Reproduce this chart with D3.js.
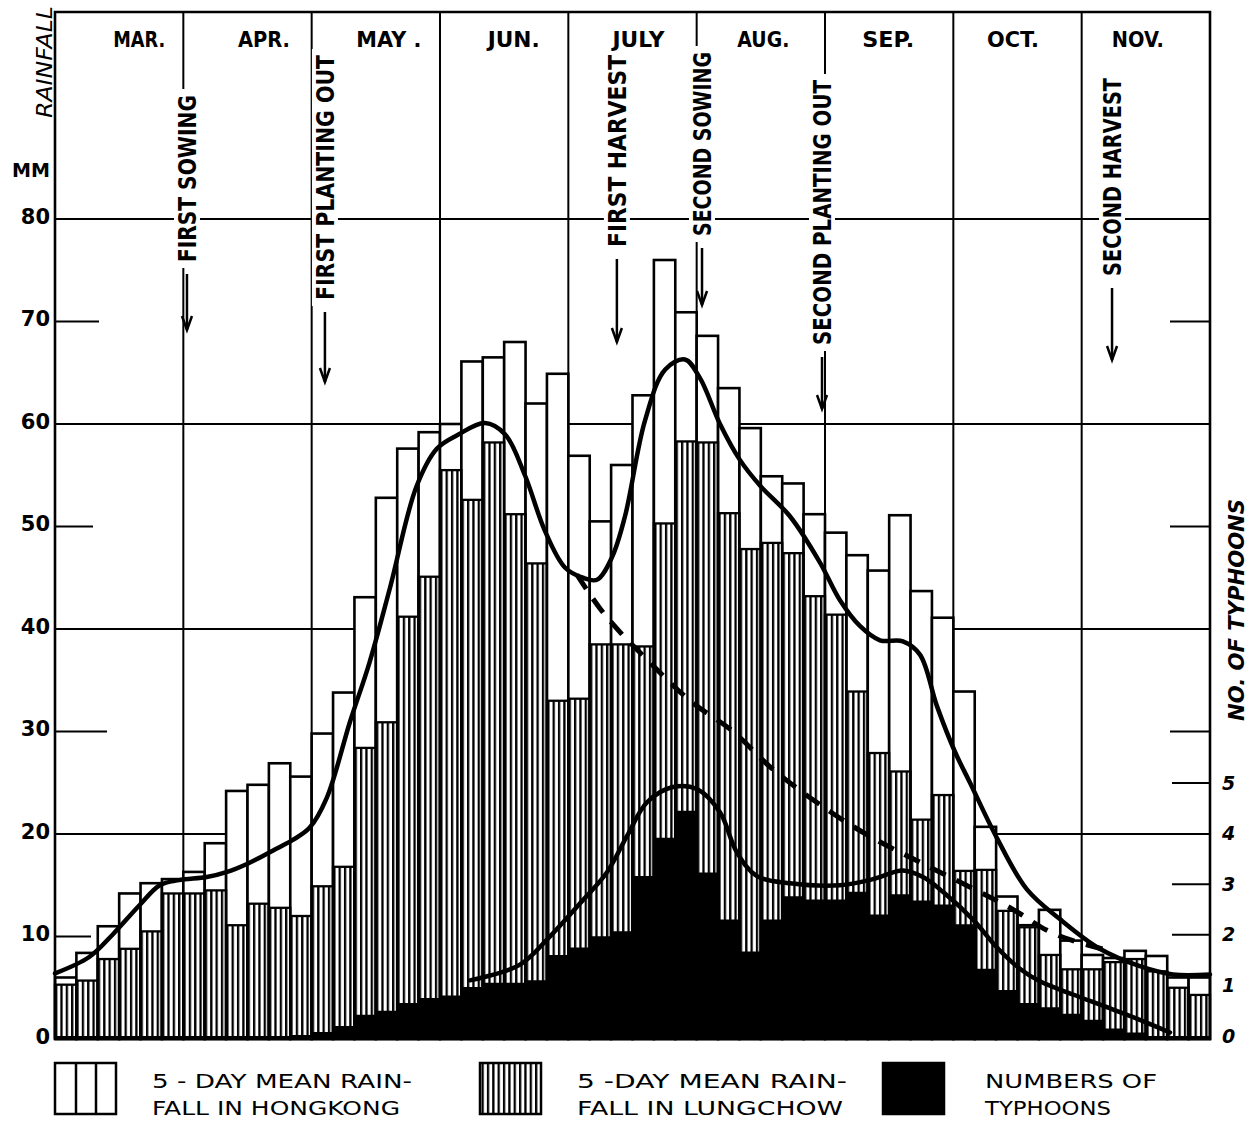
<!DOCTYPE html>
<html>
<head>
<meta charset="utf-8">
<script src="https://cdn.jsdelivr.net/npm/d3@7"></script>
<style>
  body { margin: 0; background: #fff; }
  svg { display: block; }
  text { font-family: "DejaVu Sans", sans-serif; fill: #000; }
</style>
</head>
<body>
<svg id="chart"></svg>
<script>
// month names across the top, 6 five-day periods each
const months = ["MAR.", "APR.", "MAY .", "JUN.", "JULY", "AUG.", "SEP.", "OCT.", "NOV."];

// 5-day mean rainfall, mm (Mar 1 .. Nov 30, 54 periods)
const hongkong = [
  6.0, 8.4, 11.0, 14.2, 15.2, 15.6,
  16.3, 19.1, 24.2, 24.8, 26.9, 25.6,
  29.8, 33.8, 43.1, 52.8, 57.6, 59.2,
  60.0, 66.1, 66.5, 68.0, 62.0, 64.9,
  56.9, 50.5, 56.0, 62.8, 76.0, 70.9,
  68.6, 63.5, 59.6, 54.9, 54.2, 51.2,
  49.4, 47.2, 45.7, 51.1, 43.7, 41.1,
  33.9, 20.7, 13.9, 11.1, 12.6, 9.6,
  8.2, 7.9, 8.6, 8.1, 6.0, 6.0
];
const lungchow = [
  5.3, 5.7, 7.8, 8.8, 10.5, 14.2,
  14.2, 14.5, 11.1, 13.2, 12.8, 12.0,
  14.9, 16.8, 28.4, 30.9, 41.2, 45.1,
  55.5, 52.6, 58.2, 51.2, 46.4, 33.0,
  33.2, 38.5, 38.5, 38.3, 50.3, 58.3,
  58.2, 51.3, 47.8, 48.4, 47.4, 43.2,
  41.4, 33.9, 27.9, 26.1, 21.4, 23.8,
  16.4, 16.5, 12.5, 10.9, 8.2, 6.8,
  6.8, 7.5, 7.8, 6.6, 5.0, 4.3
];
// numbers of typhoons per period
const typhoons = [
  0, 0, 0, 0, 0, 0,
  0, 0, 0, 0, 0, 0.02,
  0.08, 0.2, 0.42, 0.5, 0.65, 0.75,
  0.8, 0.97, 1.05, 1.05, 1.1, 1.6,
  1.75, 1.97, 2.07, 3.16, 3.92, 4.45,
  3.23, 2.3, 1.67, 2.3, 2.76, 2.7,
  2.7, 2.85, 2.4, 2.8, 2.68, 2.6,
  2.21, 1.33, 0.91, 0.65, 0.57, 0.44,
  0.32, 0.15, 0.07, 0, 0, 0
];

// smoothed curves: [period, value]
const hkSmooth = [
  [0, 6.4], [1.6, 8.0], [2.7, 10.2], [3.97, 13.1], [4.9, 15.0], [5.8, 15.5],
  [7.1, 15.8], [8.05, 16.3], [9.0, 17.1], [10.2, 18.4], [11.1, 19.4], [11.9, 20.6],
  [12.7, 23.5], [13.8, 31.0], [14.7, 36.7], [15.66, 44.0], [16.9, 53.9], [17.86, 57.6],
  [18.8, 58.9], [20.1, 60.1], [21.04, 59.0], [21.97, 55.0], [22.9, 49.6], [23.84, 46.0],
  [24.68, 45.0], [25.34, 44.8], [26.04, 47.0], [26.65, 51.0], [27.58, 60.3], [28.52, 65.3],
  [29.45, 66.3], [30.15, 64.5], [31.09, 60.0], [32.02, 56.5], [32.96, 54.0], [34.36, 51.0],
  [35.76, 46.5], [36.7, 42.8], [37.63, 40.3], [38.57, 38.9], [39.64, 38.8], [40.44, 37.5],
  [41.23, 32.5], [42.08, 28.0], [42.78, 25.0], [44.04, 19.6], [45.44, 14.6], [46.98, 11.7],
  [48.85, 8.8], [50.72, 7.1], [52.27, 6.3], [54, 6.3]
];
const dashedSmooth = [
  [24.4, 45.3], [25.48, 42.0], [26.5, 39.5], [27.35, 37.7], [29.69, 33.0], [31.7, 30.0],
  [33.57, 26.3], [36.23, 22.2], [38.24, 19.6], [40.58, 17.1], [44.65, 12.8], [46.38, 10.6],
  [47.59, 9.6], [49.3, 8.6]
];
const typhoonSmooth = [
  [19.4, 1.1], [21.7, 1.4], [23.1, 1.95], [24.5, 2.6], [25.8, 3.23], [26.74, 3.95],
  [27.68, 4.62], [28.89, 4.92], [30.01, 4.88], [31.09, 4.42], [31.88, 3.63], [32.82, 3.16],
  [34.36, 3.02], [36.7, 2.98], [38.24, 3.1], [39.64, 3.27], [40.58, 3.14], [41.51, 2.85],
  [42.92, 2.3], [44.04, 1.75], [45.11, 1.33], [46.05, 1.08], [47.59, 0.82], [49.18, 0.57],
  [50.72, 0.32], [52.13, 0.07]
];

// farm calendar, in 5-day periods from Mar 1
const events = [
  { label: "FIRST SOWING", pos: 6.17 },
  { label: "FIRST PLANTING OUT", pos: 12.62 },
  { label: "FIRST HARVEST", pos: 26.27 },
  { label: "SECOND SOWING", pos: 30.25 },
  { label: "SECOND PLANTING OUT", pos: 35.86 },
  { label: "SECOND HARVEST", pos: 49.42 }
];

const rainTicks = [0, 10, 20, 30, 40, 50, 60, 70, 80];
const rainGrid = [20, 40, 60, 80];
const rainShort = [10, 30, 50, 70];
const typhoonTicks = [0, 1, 2, 3, 4, 5];

// layout
const width = 1258, height = 1123;
const frame = { left: 55, right: 1210, top: 12, bottom: 1039 };

const svg = d3.select("svg#chart").attr("width", width).attr("height", height);

const x = d3.scaleLinear().domain([0, 54]).range([frame.left, frame.right]);
const y = d3.scaleLinear().domain([0, 80]).range([1039, 219]);
const yT = d3.scaleLinear().domain([0, 5]).range([1036, 783]);

// hatch for Lungchow bars
const defs = svg.append("defs");
defs.append("pattern")
  .attr("id", "hatch")
  .attr("patternUnits", "userSpaceOnUse")
  .attr("x", frame.left)
  .attr("width", 5.35)
  .attr("height", 10)
  .append("rect")
  .attr("x", 0)
  .attr("width", 2.3)
  .attr("height", 10)
  .attr("fill", "#000");

const ink = "#000";

// grid lines
svg.append("g").selectAll("line")
  .data(rainGrid)
  .join("line")
  .attr("x1", frame.left).attr("x2", frame.right)
  .attr("y1", d => y(d)).attr("y2", d => y(d))
  .attr("stroke", ink).attr("stroke-width", 1.8);

// short ticks left and right
const shortLen = { 10: 36, 30: 52, 50: 38, 70: 44 };
svg.append("g").selectAll("line")
  .data(rainShort)
  .join("line")
  .attr("x1", frame.left).attr("x2", d => frame.left + shortLen[d])
  .attr("y1", d => y(d)).attr("y2", d => y(d))
  .attr("stroke", ink).attr("stroke-width", 2);
svg.append("g").selectAll("line")
  .data(rainShort.filter(d => d >= 30))
  .join("line")
  .attr("x1", frame.right - 40).attr("x2", frame.right)
  .attr("y1", d => y(d)).attr("y2", d => y(d))
  .attr("stroke", ink).attr("stroke-width", 2);
svg.append("g").selectAll("line")
  .data(typhoonTicks.filter(d => d > 0 && d !== 4))
  .join("line")
  .attr("x1", frame.right - 38).attr("x2", frame.right)
  .attr("y1", d => yT(d)).attr("y2", d => yT(d))
  .attr("stroke", ink).attr("stroke-width", 2);

// month separators
svg.append("g").selectAll("line")
  .data(d3.range(1, months.length))
  .join("line")
  .attr("x1", d => x(d * 6)).attr("x2", d => x(d * 6))
  .attr("y1", frame.top).attr("y2", frame.bottom)
  .attr("stroke", ink).attr("stroke-width", 2);

// event labels with knock-out behind
const fontEvent = 24;
const eventLayout = {
  "FIRST SOWING": { top: 95, len: 167, arrow: 56 },
  "FIRST PLANTING OUT": { top: 55, len: 245, arrow: 70 },
  "FIRST HARVEST": { top: 55, len: 192, arrow: 83 },
  "SECOND SOWING": { top: 52, len: 184, arrow: 57 },
  "SECOND PLANTING OUT": { top: 80, len: 265, arrow: 52 },
  "SECOND HARVEST": { top: 78, len: 198, arrow: 72 }
};
const ev = svg.append("g").attr("id", "events")
  .selectAll("g")
  .data(events)
  .join("g")
  .attr("transform", d => "translate(" + x(d.pos) + ",0)");
ev.append("rect")
  .attr("x", -13).attr("width", 26)
  .attr("y", d => eventLayout[d.label].top - 6)
  .attr("height", d => eventLayout[d.label].len + 12)
  .attr("fill", "#fff");
ev.append("text")
  .attr("transform", d => {
    const l = eventLayout[d.label];
    return "translate(0," + (l.top + l.len / 2) + ") rotate(-90)";
  })
  .attr("text-anchor", "middle")
  .attr("dy", "0.36em")
  .attr("font-size", fontEvent)
  .attr("font-weight", "bold")
  .attr("textLength", d => eventLayout[d.label].len)
  .attr("lengthAdjust", "spacingAndGlyphs")
  .text(d => d.label);
ev.append("line")
  .attr("x1", 0).attr("x2", 0)
  .attr("y1", d => eventLayout[d.label].top + eventLayout[d.label].len + 12)
  .attr("y2", d => eventLayout[d.label].top + eventLayout[d.label].len + 12 + eventLayout[d.label].arrow)
  .attr("stroke", ink).attr("stroke-width", 2.5);
ev.append("path")
  .attr("d", d => {
    const b = eventLayout[d.label].top + eventLayout[d.label].len + 12 + eventLayout[d.label].arrow;
    return "M-5," + (b - 14) + " L0," + b + " L5," + (b - 14);
  })
  .attr("fill", "none").attr("stroke", ink).attr("stroke-width", 2.5);

// Hongkong bars (open)
svg.append("g").selectAll("rect")
  .data(hongkong)
  .join("rect")
  .attr("x", (d, i) => x(i))
  .attr("width", (d, i) => x(i + 1) - x(i))
  .attr("y", d => y(d))
  .attr("height", d => y(0) - y(d))
  .attr("fill", "#fff")
  .attr("stroke", ink)
  .attr("stroke-width", 2.6);

// Lungchow bars (hatched)
svg.append("g").selectAll("rect")
  .data(lungchow)
  .join("rect")
  .attr("x", (d, i) => x(i))
  .attr("width", (d, i) => x(i + 1) - x(i))
  .attr("y", d => y(d))
  .attr("height", d => y(0) - y(d))
  .attr("fill", "url(#hatch)")
  .attr("stroke", ink)
  .attr("stroke-width", 2.3);

// typhoon area (solid black steps)
const stepData = typhoons.map((d, i) => [i, d]).concat([[54, typhoons[53]]]);
svg.append("path")
  .datum(stepData)
  .attr("d", d3.area()
    .x(d => x(d[0]))
    .y0(yT(0) + 3)
    .y1(d => yT(d[1]))
    .curve(d3.curveStepAfter))
  .attr("fill", ink);

// smoothed curves
const lineRain = d3.line().x(d => x(d[0])).y(d => y(d[1])).curve(d3.curveCatmullRom.alpha(0.5));
const lineTy = d3.line().x(d => x(d[0])).y(d => yT(d[1])).curve(d3.curveCatmullRom.alpha(0.5));

svg.append("path").datum(hkSmooth)
  .attr("d", lineRain)
  .attr("fill", "none").attr("stroke", ink).attr("stroke-width", 4.5)
  .attr("stroke-linecap", "round").attr("stroke-linejoin", "round");
svg.append("path").datum(dashedSmooth)
  .attr("d", lineRain)
  .attr("fill", "none").attr("stroke", ink).attr("stroke-width", 5)
  .attr("stroke-dasharray", "17 12");
svg.append("path").datum(typhoonSmooth)
  .attr("d", lineTy)
  .attr("fill", "none").attr("stroke", ink).attr("stroke-width", 4.5)
  .attr("stroke-linecap", "round");

// frame
svg.append("path")
  .attr("d", "M" + frame.left + "," + frame.bottom + " V" + frame.top + " H" + frame.right + " V" + frame.bottom + " H" + frame.left)
  .attr("fill", "none").attr("stroke", ink).attr("stroke-width", 2.6);

// month labels (hand-lettered, drift a little left across the sheet)
svg.append("g").selectAll("text")
  .data(months)
  .join("text")
  .attr("x", (d, i) => x(i * 6 + 3) + 20 - i * 3.5)
  .attr("y", 47)
  .attr("text-anchor", "middle")
  .attr("font-size", 21)
  .attr("font-weight", "bold")
  .attr("textLength", d => d.length * 13)
  .attr("lengthAdjust", "spacingAndGlyphs")
  .text(d => d);

// left axis
const leftAxis = svg.append("g")
  .attr("transform", "translate(" + (frame.left - 3) + ",0)")
  .call(d3.axisLeft(y).tickValues(rainTicks).tickSize(0).tickPadding(2));
leftAxis.select(".domain").remove();
leftAxis.selectAll("text")
  .attr("font-family", "DejaVu Sans, sans-serif")
  .attr("font-size", 21)
  .attr("font-weight", "bold")
  .attr("dy", "0.2em");

svg.append("text")
  .attr("x", 50).attr("y", 177)
  .attr("text-anchor", "end")
  .attr("font-size", 20).attr("font-weight", "bold")
  .attr("textLength", 38).attr("lengthAdjust", "spacingAndGlyphs")
  .text("MM");
svg.append("text")
  .attr("transform", "translate(44,62) rotate(-90)")
  .attr("text-anchor", "middle")
  .attr("dy", "0.36em")
  .attr("font-size", 22).attr("font-style", "italic")
  .attr("textLength", 112).attr("lengthAdjust", "spacingAndGlyphs")
  .text("RAINFALL");

// right axis
const rightAxis = svg.append("g")
  .attr("transform", "translate(" + frame.right + ",0)")
  .call(d3.axisRight(yT).tickValues(typhoonTicks).tickFormat(d3.format("d")).tickSize(0).tickPadding(12));
rightAxis.select(".domain").remove();
rightAxis.selectAll("text")
  .attr("font-family", "DejaVu Sans, sans-serif")
  .attr("font-size", 19)
  .attr("font-style", "italic")
  .attr("font-weight", "bold");

svg.append("text")
  .attr("transform", "translate(1236,610) rotate(-90)")
  .attr("text-anchor", "middle")
  .attr("dy", "0.36em")
  .attr("font-size", 21).attr("font-style", "italic").attr("font-weight", "bold")
  .attr("textLength", 222).attr("lengthAdjust", "spacingAndGlyphs")
  .text("NO. OF TYPHOONS");

// legend
const legendItems = [
  { key: "hk", x: 55, lines: ["5 - DAY MEAN RAIN-", "FALL IN HONGKONG"], len: [260, 248] },
  { key: "lc", x: 480, lines: ["5 -DAY MEAN RAIN-", "FALL IN LUNGCHOW"], len: [270, 266] },
  { key: "ty", x: 883, lines: ["NUMBERS OF", "TYPHOONS"], len: [172, 126] }
];
const lg = svg.append("g").selectAll("g")
  .data(legendItems)
  .join("g")
  .attr("transform", d => "translate(" + d.x + ",1063)");
lg.append("rect")
  .attr("width", 61).attr("height", 51)
  .attr("fill", d => d.key === "hk" ? "#fff" : d.key === "lc" ? "url(#hatch)" : ink)
  .attr("stroke", ink).attr("stroke-width", 2.5);
lg.filter(d => d.key === "hk").selectAll("line")
  .data([21, 41])
  .join("line")
  .attr("x1", d => d).attr("x2", d => d)
  .attr("y1", 0).attr("y2", 51)
  .attr("stroke", ink).attr("stroke-width", 2.5);
lg.each(function(d) {
  const g = d3.select(this);
  d.lines.forEach((t, j) => {
    g.append("text")
      .attr("x", d.key === "ty" ? 102 : 97)
      .attr("y", 25 + j * 27)
      .attr("font-size", 19)
      .attr("textLength", d.len[j])
      .attr("lengthAdjust", "spacingAndGlyphs")
      .text(t);
  });
});
</script>
</body>
</html>
